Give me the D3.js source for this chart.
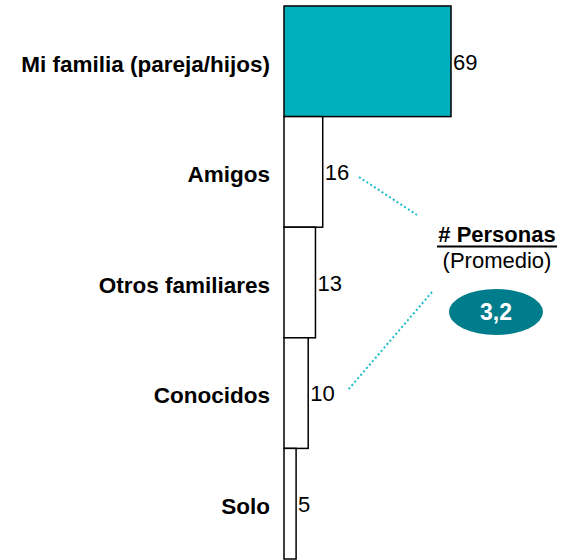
<!DOCTYPE html>
<html>
<head>
<meta charset="utf-8">
<script src="https://cdn.jsdelivr.net/npm/d3@7"></script>
<style>
  body { margin: 0; background: #fff; }
  text { font-family: "Liberation Sans", Arial, sans-serif; }
</style>
</head>
<body>
<div class="chart"></div>
<script>
// data
var categories = ["Mi familia (pareja/hijos)", "Amigos", "Otros familiares", "Conocidos", "Solo"];
var values = [69, 16, 13, 10, 5];
var avgTitle = "# Personas";
var avgSub = "(Promedio)";
var avgValue = "3,2";

var svgWidth = 562;
var svgHeight = 560;

var barLeft = 284;
var barMaxWidth = 167;

var svg = d3.select(".chart")
  .append("svg")
  .attr("width", svgWidth)
  .attr("height", svgHeight);

var x = d3.scaleLinear()
  .domain([0, d3.max(values)])
  .range([barLeft, barLeft + barMaxWidth]);

var y = d3.scaleBand()
  .domain(categories)
  .range([6, 559])
  .padding(0);

var rows = categories.map(function(c, i) {
  return { cat: c, val: values[i], i: i };
});

// bars
svg.selectAll(".bar")
  .data(rows)
  .enter()
  .append("rect")
  .attr("class", "bar")
  .attr("x", x(0))
  .attr("y", function(d) { return y(d.cat); })
  .attr("width", function(d) { return x(d.val) - x(0); })
  .attr("height", y.bandwidth())
  .style("fill", function(d) { return d.i === 0 ? "#00b0bd" : "#ffffff"; })
  .style("stroke", "#000")
  .style("stroke-width", 1.5);

// category labels
svg.selectAll(".cat")
  .data(rows)
  .enter()
  .append("text")
  .attr("class", "cat")
  .attr("x", x(0) - 14)
  .attr("y", function(d) { return y(d.cat) + y.bandwidth() / 2 + 2.5; })
  .attr("dy", "0.35em")
  .attr("text-anchor", "end")
  .style("font-size", "22.5px")
  .style("font-weight", "bold")
  .style("fill", "#000")
  .text(function(d) { return d.cat; });

// value labels
svg.selectAll(".val")
  .data(rows)
  .enter()
  .append("text")
  .attr("class", "val")
  .attr("x", function(d) { return x(d.val) + 2; })
  .attr("y", function(d) { return y(d.cat) + y.bandwidth() / 2 + 0.5; })
  .attr("dy", "0.35em")
  .style("font-size", "22px")
  .style("fill", "#000")
  .text(function(d) { return d.val; });

// dotted connector lines
var dotStyle = function(sel) {
  sel.style("stroke", "#1dbccb")
    .style("stroke-width", 2)
    .style("stroke-dasharray", "2,2.5");
};
svg.append("line")
  .attr("x1", 359).attr("y1", 177)
  .attr("x2", 417).attr("y2", 215)
  .call(dotStyle);
svg.append("line")
  .attr("x1", 432).attr("y1", 292)
  .attr("x2", 348).attr("y2", 390)
  .call(dotStyle);

// average annotation
var cx = 497;
svg.append("text")
  .attr("x", cx)
  .attr("y", 242)
  .attr("text-anchor", "middle")
  .style("font-size", "22px")
  .style("font-weight", "bold")
  .text(avgTitle);
svg.append("line")
  .attr("x1", 437).attr("x2", 557)
  .attr("y1", 246.5).attr("y2", 246.5)
  .style("stroke", "#000")
  .style("stroke-width", 2);
svg.append("text")
  .attr("x", cx)
  .attr("y", 268)
  .attr("text-anchor", "middle")
  .style("font-size", "22px")
  .text(avgSub);

svg.append("ellipse")
  .attr("cx", 496)
  .attr("cy", 312)
  .attr("rx", 47)
  .attr("ry", 23)
  .style("fill", "#007d8c");
svg.append("text")
  .attr("x", 496)
  .attr("y", 312)
  .attr("dy", "0.35em")
  .attr("text-anchor", "middle")
  .style("font-size", "23px")
  .style("font-weight", "bold")
  .style("fill", "#fff")
  .text(avgValue);
</script>
</body>
</html>
